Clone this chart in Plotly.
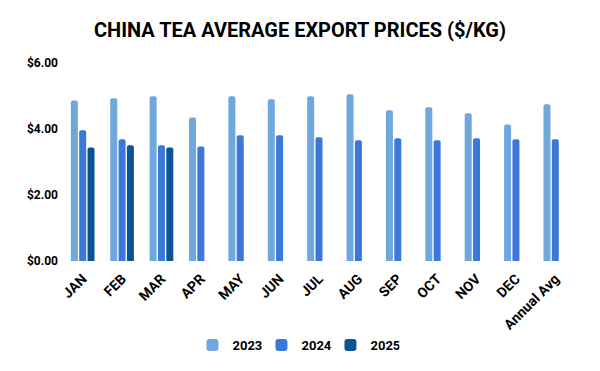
import plotly.graph_objects as go

categories = ["JAN", "FEB", "MAR", "APR", "MAY", "JUN", "JUL", "AUG", "SEP", "OCT", "NOV", "DEC", "Annual Avg"]
prices_2023 = [4.86, 4.93, 4.99, 4.35, 4.99, 4.90, 4.99, 5.05, 4.57, 4.66, 4.48, 4.14, 4.75]
prices_2024 = [3.96, 3.69, 3.51, 3.47, 3.81, 3.81, 3.75, 3.66, 3.72, 3.66, 3.72, 3.69, 3.69]
prices_2025 = [3.44, 3.51, 3.44, None, None, None, None, None, None, None, None, None, None]
y_ticks = [0, 2, 4, 6]
y_tick_labels = ["$0.00", "$2.00", "$4.00", "$6.00"]

fig = go.Figure()
for name, vals, color in [("2023", prices_2023, "#6fa8dc"),
                          ("2024", prices_2024, "#3c78d8"),
                          ("2025", prices_2025, "#0b5394")]:
    fig.add_trace(go.Bar(x=categories, y=vals, name=name, marker_color=color,
                         marker_line_width=0))

W, H = 592, 363
fig.update_layout(
    width=W, height=H,
    barmode="group", bargap=0.365, bargroupgap=0.16, barcornerradius=2,
    paper_bgcolor="white", plot_bgcolor="white",
    font=dict(family="Roboto", color="#000000"),
    title=dict(text="<b>CHINA TEA AVERAGE EXPORT PRICES ($/KG)</b>",
               x=292 / W, xanchor="center", xref="container", y=1 - 22 / H, yanchor="middle",
               font=dict(size=20, family="Roboto", color="#000000")),
    margin=dict(l=55, r=25, t=55, b=110, autoexpand=False),
    xaxis=dict(tickangle=-45, tickfont=dict(size=14, family="Roboto", weight="bold"),
               showgrid=False, showline=False, ticks="", automargin=False,
               ticklabelstandoff=6),
    yaxis=dict(range=[0, 6], tickvals=y_ticks, ticktext=y_tick_labels,
               tickfont=dict(size=12, family="Roboto", weight="bold"),
               showgrid=False, zeroline=False, showline=False, ticks="",
               automargin=False, ticklabelstandoff=4),
    legend=dict(orientation="h", x=0.455, xanchor="center", y=-0.424, yanchor="middle",
                font=dict(size=13, family="Roboto", weight="bold"),
                itemwidth=30, itemsizing="constant",
                entrywidth=24, entrywidthmode="pixels"),
    showlegend=True,
)

fig.write_html("out.html")
